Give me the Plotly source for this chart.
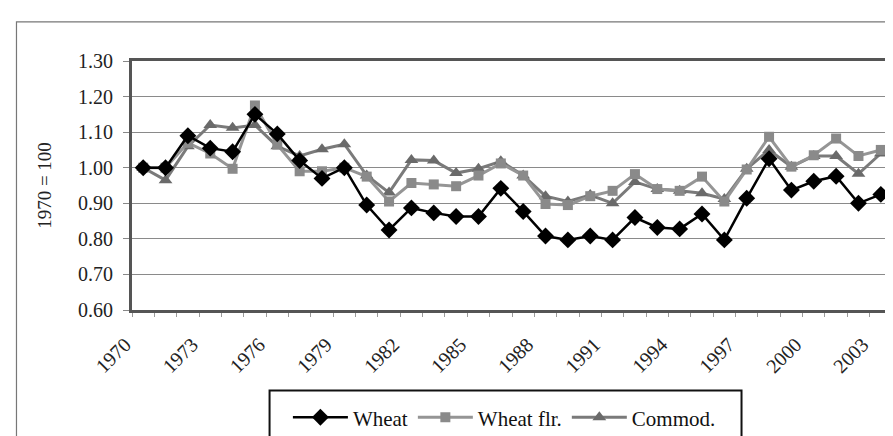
import plotly.graph_objects as go

years = list(range(1970, 2004))
wheat = [1.00, 1.00, 1.09, 1.055, 1.045, 1.15, 1.095, 1.02, 0.97, 1.00,
         0.895, 0.825, 0.887, 0.873, 0.863, 0.863, 0.942, 0.877, 0.808, 0.797,
         0.808, 0.797, 0.86, 0.832, 0.828, 0.87, 0.797, 0.914, 1.025, 0.937,
         0.962, 0.976, 0.90, 0.925]
wheat_flr = [1.00, 1.00, 1.07, 1.04, 0.997, 1.175, 1.065, 0.99, 0.99, 1.00,
             0.975, 0.905, 0.957, 0.953, 0.948, 0.978, 1.012, 0.978, 0.898, 0.895,
             0.92, 0.935, 0.982, 0.94, 0.935, 0.975, 0.905, 0.995, 1.087, 1.003,
             1.035, 1.082, 1.033, 1.05]
commod = [1.00, 0.965, 1.06, 1.12, 1.112, 1.12, 1.06, 1.033, 1.052, 1.066,
          0.978, 0.93, 1.022, 1.02, 0.985, 0.997, 1.018, 0.978, 0.92, 0.905,
          0.923, 0.90, 0.96, 0.94, 0.935, 0.928, 0.912, 0.997, 1.05, 1.003,
          1.033, 1.033, 0.983, 1.04]
tick_years = list(range(1970, 2004, 3))
y_ticks = [0.60, 0.70, 0.80, 0.90, 1.00, 1.10, 1.20, 1.30]

FONT = "Liberation Serif, Times New Roman, DejaVu Serif, serif"

fig = go.Figure()
fig.add_trace(go.Scatter(
    x=years, y=commod, name="Commod.", mode="lines+markers", legendrank=3,
    line=dict(color="#7a7a7a", width=3),
    marker=dict(symbol="triangle-up", size=12, color="#6a6a6a")))
fig.add_trace(go.Scatter(
    x=years, y=wheat_flr, name="Wheat flr.", mode="lines+markers", legendrank=2,
    line=dict(color="#959595", width=3),
    marker=dict(symbol="square", size=10, color="#8a8a8a")))
fig.add_trace(go.Scatter(
    x=years, y=wheat, name="Wheat", mode="lines+markers", legendrank=1,
    line=dict(color="#000000", width=2.5),
    marker=dict(symbol="diamond", size=13, color="#000000")))

fig.update_layout(
    width=893, height=436,
    margin=dict(l=124, r=6, t=53, b=129),
    paper_bgcolor="white", plot_bgcolor="white",
    font=dict(family=FONT, size=20, color="#222"),
    showlegend=True,
    legend=dict(orientation="h", x=0.49, xanchor="center", y=-0.35, yanchor="top",
                bgcolor="rgba(0,0,0,0)", font=dict(family=FONT, size=21, color="#111"),
                traceorder="normal", itemwidth=55),
    xaxis=dict(range=[1969.5, 2003.5], tickmode="array",
               tickvals=tick_years,
               ticktext=[str(y) for y in tick_years], tickangle=-45,
               tickfont=dict(family=FONT, size=20, color="#222"),
               ticklabelstandoff=12, ticklabelshift=-18,
               showgrid=False, zeroline=False, showline=True, linecolor="#555",
               linewidth=3, mirror=True, ticks="",
               minor=dict(tick0=1969.5, dtick=1, ticks="outside", ticklen=4,
                          tickcolor="#999", tickwidth=1)),
    yaxis=dict(range=[0.60, 1.30], tickmode="array", tickvals=y_ticks,
               ticktext=[f"{v:.2f}" for v in y_ticks],
               tickfont=dict(family=FONT, size=20, color="#222"),
               ticklabelstandoff=6,
               showgrid=True, gridcolor="#8a8a8a", gridwidth=1, zeroline=False,
               showline=True, linecolor="#555", linewidth=3, mirror=True,
               ticks="outside", ticklen=6, tickcolor="#888",
               title=dict(text="1970 = 100", font=dict(family=FONT, size=19, color="#222"),
                          standoff=22)),
    shapes=[
        dict(type="rect", xref="paper", yref="paper", x0=-0.152, x1=1.03, y0=-0.6, y1=1.157,
             line=dict(color="#777", width=1.2), fillcolor="rgba(0,0,0,0)", layer="below"),
        dict(type="rect", xref="paper", yref="paper", x0=0.181, x1=0.802, y0=-0.6, y1=-0.323,
             line=dict(color="#111", width=2), fillcolor="rgba(0,0,0,0)"),
    ],
)

fig.write_html("out.html")
